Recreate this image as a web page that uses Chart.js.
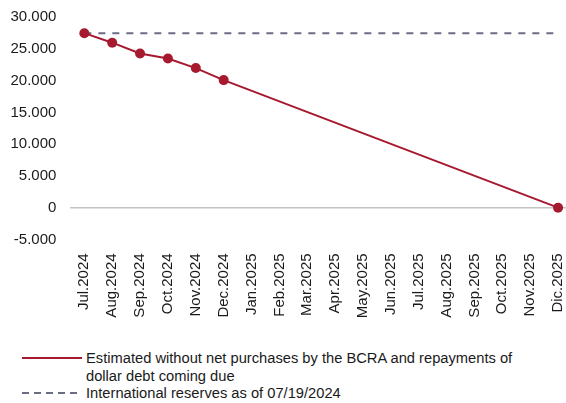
<!DOCTYPE html>
<html>
<head>
<meta charset="utf-8">
<script src="https://cdn.jsdelivr.net/npm/chart.js@4.4.1/dist/chart.umd.min.js"></script>
<style>
  html, body { margin: 0; padding: 0; background: #fff; overflow: hidden; }
  #wrap { position: relative; width: 566px; height: 403px; overflow: hidden; }
  #chart { position: absolute; left: 0; top: 0; }
  #legend { position: absolute; left: 22px; top: 350px; font: 14.7px "Liberation Sans", Arial, sans-serif; color: #1a1a1a; }
  .item { display: flex; align-items: flex-start; line-height: 17.5px; }
  .item svg { flex: none; margin-top: 5px; margin-right: 4px; }
  .item span { width: 460px; }
</style>
</head>
<body>
<div id="wrap">
  <canvas id="chart" width="577" height="330"></canvas>
  <div id="legend"></div>
</div>
<script>
const months = ['Jul.2024', 'Aug.2024', 'Sep.2024', 'Oct.2024', 'Nov.2024', 'Dec.2024',
  'Jan.2025', 'Feb.2025', 'Mar.2025', 'Apr.2025', 'May.2025', 'Jun.2025',
  'Jul.2025', 'Aug.2025', 'Sep.2025', 'Oct.2025', 'Nov.2025', 'Dic.2025'];

// projected reserves: monthly estimates to Dec.2024, then straight run-off to zero
const estimated = [27500, 26000, 24300, 23500, 22000, 20100,
  null, null, null, null, null, null, null, null, null, null, null, 0];

// reserves level on 07/19/2024, held flat across the horizon
const reservesLevel = 27500;
const reserves = months.map(() => reservesLevel);

const yTicks = [-5000, 0, 5000, 10000, 15000, 20000, 25000, 30000];

const red = '#a6192e';
const slate = '#6b6d85';
const font = { family: "'Liberation Sans', Arial, sans-serif", size: 15 };

function fmt(v) {
  const s = Math.abs(v).toString().replace(/\B(?=(\d{3})+(?!\d))/g, '.');
  return (v < 0 ? '-' : '') + s;
}

const chart = new Chart(document.getElementById('chart'), {
  type: 'line',
  data: {
    labels: months,
    datasets: [
      {
        label: 'Estimated without net purchases by the BCRA and repayments of dollar debt coming due',
        data: estimated,
        borderColor: red,
        backgroundColor: red,
        borderWidth: 2,
        pointRadius: 5,
        pointBackgroundColor: red,
        pointBorderWidth: 0,
        spanGaps: true,
        tension: 0
      },
      {
        label: 'International reserves as of 07/19/2024',
        data: reserves,
        borderColor: slate,
        borderWidth: 2,
        borderDash: [7, 7],
        pointRadius: 0,
        tension: 0
      }
    ]
  },
  options: {
    responsive: false,
    animation: false,
    layout: { padding: { top: 17.3, left: 0, right: 0, bottom: 0 } },
    plugins: { legend: { display: false }, tooltip: { enabled: false } },
    scales: {
      x: {
        offset: true,
        grid: { display: false, drawTicks: false },
        border: { display: false },
        ticks: { autoSkip: false, minRotation: 90, maxRotation: 90, padding: 14, color: '#1a1a1a', font: font },
        afterFit: (s) => { s.height = 90.6; s.paddingLeft = 0; s.paddingRight = 0; }
      },
      y: {
        min: -5000,
        max: 30000,
        afterBuildTicks: (s) => { s.ticks = yTicks.map(v => ({ value: v })); },
        grid: {
          drawTicks: false,
          color: (ctx) => ctx.tick && ctx.tick.value === 0 ? '#c4c4c4' : 'rgba(0,0,0,0)',
          lineWidth: 1.5
        },
        border: { display: false },
        ticks: { padding: 14, color: '#1a1a1a', font: font, callback: (v) => fmt(v) },
        afterFit: (s) => { s.width = 70.4; s.paddingTop = 0; s.paddingBottom = 0; }
      }
    }
  }
});

// legend below the chart, built from the datasets
const legend = document.getElementById('legend');
chart.data.datasets.forEach((ds) => {
  const row = document.createElement('div');
  row.className = 'item';
  const dash = ds.borderDash ? ` stroke-dasharray="7 5"` : '';
  row.innerHTML = `<svg width="60" height="6"><line x1="0" y1="3" x2="60" y2="3" stroke="${ds.borderColor}" stroke-width="2"${dash}/></svg>`;
  const span = document.createElement('span');
  span.textContent = ds.label;
  row.appendChild(span);
  legend.appendChild(row);
});
</script>
</body>
</html>
